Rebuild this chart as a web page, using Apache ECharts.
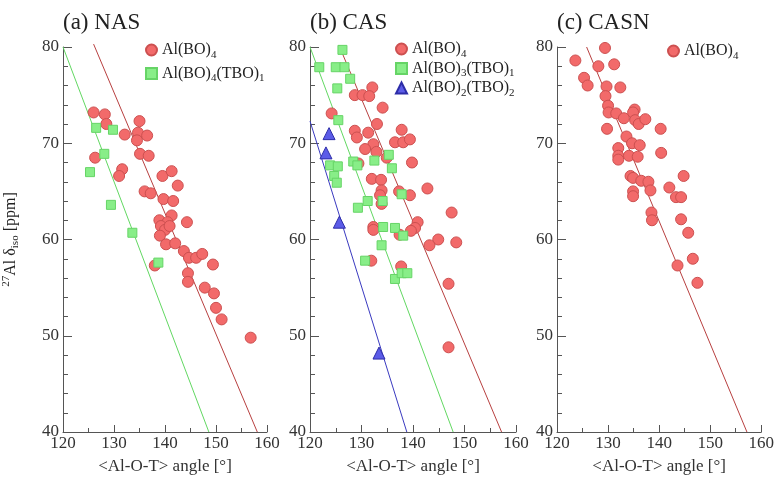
<!DOCTYPE html>
<html>
<head>
<meta charset="utf-8">
<script src="https://cdn.jsdelivr.net/npm/echarts@6/dist/echarts.min.js"></script>
<style>
  html, body { margin: 0; padding: 0; background: #fff; }
  #chart { width: 777px; height: 480px; }
</style>
</head>
<body>
<div id="chart"></div>
<script>
// (a) NAS
const nasBO4 = [
  [126.0,73.2],[128.2,73.0],[128.5,72.0],[135.0,72.3],[132.1,70.9],[134.7,71.1],[136.5,70.8],
  [134.5,70.3],[135.1,68.9],[136.8,68.7],[126.3,68.5],[131.6,67.3],[131.0,66.6],[139.5,66.6],
  [141.3,67.1],[142.5,65.6],[136.0,65.0],[137.2,64.8],[139.7,64.2],[141.6,64.0],[141.3,62.5],
  [138.9,62.0],[140.5,61.8],[144.3,61.8],[139.2,61.4],[140.0,61.0],[140.9,61.4],[139.0,60.4],
  [140.2,59.5],[142.0,59.6],[143.7,58.8],[144.7,58.1],[146.1,58.1],[147.3,58.5],[149.4,57.4],
  [138.0,57.3],[144.5,56.5],[144.5,55.6],[147.8,55.0],[149.6,54.4],[150.0,52.9],[151.1,51.7],
  [156.8,49.8]
];
const nasTBO1 = [[126.5,71.6],[129.8,71.4],[128.1,68.9],[125.3,67.0],[129.4,63.6],[133.6,60.7],[138.7,57.6]];
const nasFitBO4 = [[126.0,80.3],[158.1,40]];
const nasFitTBO1 = [[120,80],[148.6,40]];

// (b) CAS
const casBO4 = [
  [132.1,75.8],[128.7,75.0],[130.2,75.0],[131.5,74.9],[134.1,73.7],[124.2,73.1],[133.0,72.0],
  [128.7,71.3],[129.1,70.6],[131.3,71.1],[137.8,71.4],[132.3,69.9],[136.5,70.1],[138.1,70.1],
  [139.4,70.4],[130.7,69.4],[132.9,69.1],[134.9,68.5],[129.4,67.9],[139.8,68.0],[132.0,66.3],
  [133.8,66.2],[133.9,65.1],[133.6,64.6],[133.9,63.7],[137.3,65.0],[139.4,64.6],[142.8,65.3],
  [147.5,62.8],[140.9,61.8],[140.4,61.2],[139.6,60.9],[132.3,61.3],[132.3,61.0],[137.4,60.5],
  [144.9,60.0],[143.2,59.4],[148.4,59.7],[131.9,57.8],[137.7,57.2],[146.9,55.4],[146.9,48.8]
];
const casTBO1 = [
  [126.3,79.7],[121.8,77.9],[125.0,77.9],[126.7,77.9],[127.8,76.7],[125.3,75.7],[125.5,72.4],
  [128.4,68.1],[129.2,67.7],[123.9,67.7],[125.4,67.6],[124.7,66.6],[125.2,65.9],[132.5,68.2],
  [135.3,68.8],[135.9,67.4],[137.8,64.7],[131.2,64.0],[134.1,64.0],[129.3,63.3],[134.2,61.3],
  [136.5,61.2],[138.1,60.4],[133.9,59.4],[130.7,57.8],[136.5,55.9],[137.8,56.5],[138.9,56.5]
];
const casTBO2 = [[123.7,71.0],[123.1,69.0],[125.7,61.8],[133.4,48.2]];
const casFitBO4 = [[125.6,80.2],[157.2,40]];
const casFitTBO1 = [[120,80],[147.8,40]];
const casFitTBO2 = [[120,72.3],[138.8,40]];

// (c) CASN
const casnBO4 = [
  [129.4,79.9],[123.6,78.6],[128.1,78.0],[131.2,78.2],[125.3,76.8],[126.0,76.0],[129.7,75.9],
  [129.5,74.9],[132.4,75.8],[130.0,73.9],[130.1,73.2],[131.6,73.1],[133.1,72.6],[135.2,73.5],
  [134.9,73.2],[135.3,72.4],[136.0,72.0],[137.3,72.5],[129.8,71.5],[140.3,71.5],[133.6,70.7],
  [134.7,70.0],[136.2,69.8],[132.0,69.5],[132.0,68.7],[132.0,68.3],[134.1,68.7],[135.8,68.6],
  [140.4,69.0],[134.4,66.6],[134.9,66.4],[136.5,66.1],[137.9,66.0],[144.8,66.6],[134.9,65.0],
  [134.9,64.5],[138.3,65.1],[142.0,65.4],[143.3,64.4],[144.3,64.4],[138.5,62.8],[138.6,62.0],
  [144.3,62.1],[145.7,60.7],[146.6,58.0],[143.6,57.3],[147.5,55.5]
];
const casnFitBO4 = [[125.8,80],[157.2,40]];

const panelTitles = ['(a) NAS', '(b) CAS', '(c) CASN'];
const xTicks = {min: 120, max: 160, step: 10};
const yTicks = {min: 40, max: 80, step: 10};

const SERIF = '"Liberation Serif", "DejaVu Serif", serif';
const RED = '#f26a6a', RED_EDGE = '#cc5050', RED_LINE = '#b84040';
const GREEN = '#88ee88', GREEN_EDGE = '#66d466', GREEN_LINE = '#62d862';
const BLUE = '#5c5ce8', BLUE_EDGE = '#2d2da8', BLUE_LINE = '#3a3ac0';

const gridLefts = [63, 310, 557];
const gridWidths = [204, 206, 205];

const subRich = {
  sub: {fontFamily: SERIF, fontSize: 11, color: '#222', padding: [10, 0, 0, 0]},
  sup: {fontFamily: SERIF, fontSize: 11, color: '#222', padding: [0, 0, 8, 0]}
};
function subFmt(name) {
  return name.replace(/\)(\d)/g, '){sub|$1}');
}

const chart = echarts.init(document.getElementById('chart'));

function scatter(name, data, idx, symbol, size, fill, edge) {
  return {
    name: name, type: 'scatter', xAxisIndex: idx, yAxisIndex: idx,
    data: data, symbol: symbol, symbolSize: size, z: 3,
    itemStyle: {color: fill, borderColor: edge, borderWidth: 1, opacity: 1}
  };
}
function fit(data, idx, color) {
  return {
    type: 'line', xAxisIndex: idx, yAxisIndex: idx, data: data,
    symbol: 'none', silent: true, z: 2, clip: false,
    lineStyle: {color: color, width: 1}
  };
}

const option = {
  animation: false,
  backgroundColor: '#fff',
  title: panelTitles.map((t, i) => ({
    text: t, left: gridLefts[i], top: 11, padding: 0,
    textStyle: {fontFamily: SERIF, fontSize: 23, fontWeight: 'normal', color: '#222'}
  })),
  grid: gridLefts.map((l, i) => ({left: l, top: 47, width: gridWidths[i], height: 391})),
  xAxis: gridLefts.map((l, i) => ({
    type: 'value', gridIndex: i,
    min: xTicks.min, max: xTicks.max, interval: xTicks.step,
    axisLine: {show: true, onZero: false, lineStyle: {color: '#555', width: 1}},
    axisTick: {show: true, inside: true, length: 7, lineStyle: {color: '#555'}},
    minorTick: {show: true, splitNumber: 2, length: 4, lineStyle: {color: '#555'}},
    splitLine: {show: false},
    axisLabel: {fontFamily: SERIF, fontSize: 17, color: '#333', margin: 3},
    name: '<Al-O-T> angle [°]', nameLocation: 'middle', nameGap: 26,
    nameTextStyle: {fontFamily: SERIF, fontSize: 17, color: '#333'}
  })),
  yAxis: gridLefts.map((l, i) => ({
    type: 'value', gridIndex: i,
    min: yTicks.min, max: yTicks.max, interval: yTicks.step,
    axisLine: {show: true, onZero: false, lineStyle: {color: '#555', width: 1}},
    axisTick: {show: true, inside: true, length: 9, lineStyle: {color: '#555'}},
    minorTick: {show: true, splitNumber: 5, length: 5, lineStyle: {color: '#555'}},
    splitLine: {show: false},
    axisLabel: {fontFamily: SERIF, fontSize: 17, color: '#333', margin: 4},
    name: i === 0 ? '{sup|27}Al δ{sub|iso} [ppm]' : '',
    nameLocation: 'middle', nameGap: 42,
    nameTextStyle: {fontFamily: SERIF, fontSize: 16, color: '#222', rich: subRich}
  })),
  legend: [
    {
      left: 145, top: 42, orient: 'vertical', itemGap: 5,
      data: [{name: 'Al(BO)4', icon: 'circle'}, {name: 'Al(BO)4(TBO)1', icon: 'rect'}]
    },
    {
      left: 395, top: 41, orient: 'vertical', itemGap: 1,
      data: [{name: 'Al(BO)4', icon: 'circle'}, {name: 'Al(BO)3(TBO)1', icon: 'rect'},
             {name: 'Al(BO)2(TBO)2', icon: 'triangle'}]
    },
    {
      left: 667, top: 43, orient: 'vertical', itemGap: 3,
      data: [{name: 'Al(BO)4', icon: 'circle'}]
    }
  ].map(lg => Object.assign(lg, {
    padding: 0, selectedMode: false, formatter: subFmt, itemWidth: 11, itemHeight: 11,
    textStyle: {fontFamily: SERIF, fontSize: 16, color: '#222', rich: subRich}
  })),
  series: [
    fit(nasFitBO4, 0, RED_LINE),
    fit(nasFitTBO1, 0, GREEN_LINE),
    scatter('Al(BO)4', nasBO4, 0, 'circle', 11, RED, RED_EDGE),
    scatter('Al(BO)4(TBO)1', nasTBO1, 0, 'rect', 9, GREEN, GREEN_EDGE),

    fit(casFitBO4, 1, RED_LINE),
    fit(casFitTBO1, 1, GREEN_LINE),
    fit(casFitTBO2, 1, BLUE_LINE),
    scatter('Al(BO)4', casBO4, 1, 'circle', 11, RED, RED_EDGE),
    scatter('Al(BO)3(TBO)1', casTBO1, 1, 'rect', 9, GREEN, GREEN_EDGE),
    scatter('Al(BO)2(TBO)2', casTBO2, 1, 'triangle', 12, BLUE, BLUE_EDGE),

    fit(casnFitBO4, 2, RED_LINE),
    scatter('Al(BO)4', casnBO4, 2, 'circle', 11, RED, RED_EDGE)
  ]
};

chart.setOption(option);
</script>
</body>
</html>
